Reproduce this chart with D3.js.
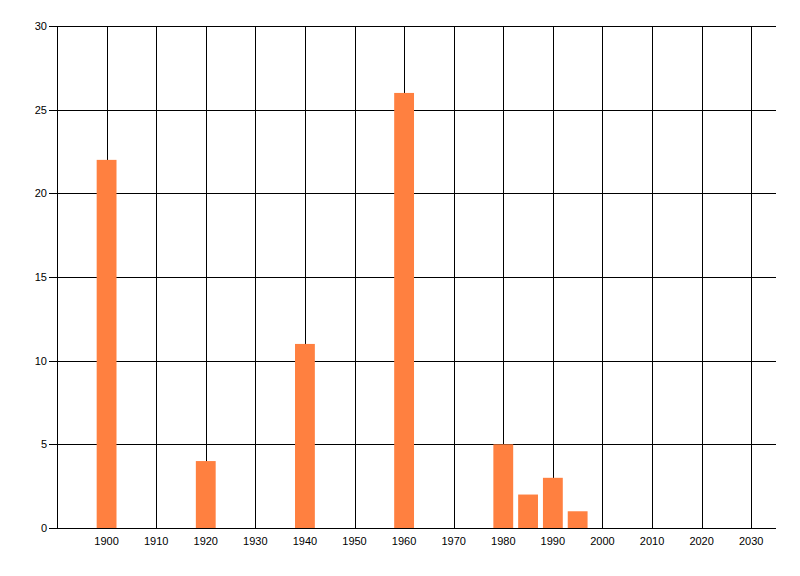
<!DOCTYPE html>
<html><head><meta charset="utf-8">
<script src="https://cdn.jsdelivr.net/npm/d3@7"></script>
<style>body{margin:0;background:#fff}text{font-family:"Liberation Sans",Arial,sans-serif;font-size:11px;fill:#000}</style>
</head><body>
<svg id="c" width="800" height="576"></svg>
<script>
const years = [1900, 1920, 1940, 1960, 1980, 1985, 1990, 1995];
const values = [22, 4, 11, 26, 5, 2, 3, 1];
const xTicks = [1900,1910,1920,1930,1940,1950,1960,1970,1980,1990,2000,2010,2020,2030];
const yTicks = [0,5,10,15,20,25,30];

const svg = d3.select("#c");
const L=57, R=776, T=26, B=528;
const x = d3.scaleLinear().domain([1890, 2035]).range([L, R]);
const y = d3.scaleLinear().domain([0, 30]).range([B, T]);

// horizontal grid with ticks
svg.append("g").selectAll("line").data(yTicks).join("line")
  .attr("x1", L-8).attr("x2", R).attr("y1", d=>Math.round(y(d))+0.5).attr("y2", d=>Math.round(y(d))+0.5)
  .attr("stroke","#000").attr("stroke-width",1);
svg.append("g").selectAll("text").data(yTicks).join("text")
  .attr("x", L-10).attr("y", d=>y(d)+4).attr("text-anchor","end").text(d=>d);

// vertical grid
svg.append("g").selectAll("line").data(xTicks).join("line")
  .attr("x1", d=>Math.round(x(d))+0.5).attr("x2", d=>Math.round(x(d))+0.5).attr("y1", T).attr("y2", B)
  .attr("stroke","#000").attr("stroke-width",1);
svg.append("g").selectAll("text").data(xTicks).join("text")
  .attr("x", d=>x(d)).attr("y", B+17).attr("text-anchor","middle").text(d=>d);

// y axis line
svg.append("line").attr("x1",L+0.5).attr("x2",L+0.5).attr("y1",T).attr("y2",B+1).attr("stroke","#000");

// bars
const bw = x(1894) - x(1890);
svg.append("g").selectAll("rect").data(years.map((yr,i)=>({yr, v: values[i]}))).join("rect")
  .attr("x", d=>x(d.yr)-bw/2).attr("width", bw)
  .attr("y", d=>y(d.v)).attr("height", d=>B - y(d.v))
  .attr("fill","#ff8040");
</script>
</body></html>
